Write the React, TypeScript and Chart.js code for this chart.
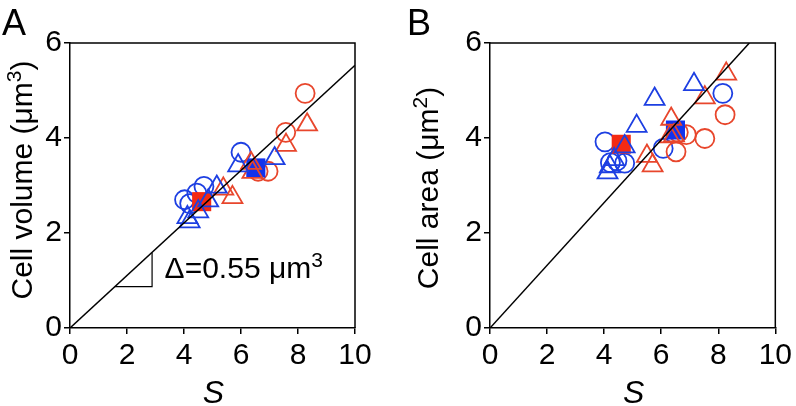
import React, { useEffect, useRef } from 'react';
import { Chart, registerables } from 'chart.js';

Chart.register(...registerables);

const FONT = '"Liberation Sans", Arial, Helvetica, sans-serif';
const BLUE = '#1d3fe2';
const RED = '#e8462c';
const RED_FILL = '#f42a12';
const BLUE_FILL = '#1232ee';

// ---- Panel A: Cell volume vs S ----
const blueCirclesA = [[4.02, 2.70], [4.2, 2.62], [4.45, 2.84], [4.7, 2.98], [6.0, 3.70]];
const blueTrianglesA = [[4.12, 2.33], [4.2, 2.24], [4.5, 2.45], [4.85, 2.68], [5.15, 2.97], [5.9, 3.42], [7.18, 3.57]];
const redCirclesA = [[6.6, 3.3], [6.95, 3.3], [7.57, 4.12], [8.25, 4.94]];
const redTrianglesA = [[5.38, 2.93], [5.7, 2.75], [6.35, 3.47], [6.4, 3.28], [7.58, 3.85], [8.32, 4.28]];
const redSquareA = [[4.62, 2.66]];
const blueSquareA = [[6.52, 3.37]];
const fitLineA = [[0, 0], [10, 5.53]];
const slopeTriangleA = [[1.58, 0.87], [2.88, 0.87], [2.88, 1.59]];

// ---- Panel B: Cell area vs S ----
const blueCirclesB = [[4.03, 3.92], [4.22, 3.48], [4.45, 3.52], [4.72, 3.47], [6.07, 3.78], [8.16, 4.94]];
const blueTrianglesB = [[4.12, 3.27], [4.2, 3.4], [4.35, 3.55], [4.72, 3.82], [5.14, 4.25], [5.77, 4.82], [7.15, 5.13]];
const redCirclesB = [[6.52, 3.71], [6.6, 4.12], [6.88, 4.07], [7.53, 3.99], [8.24, 4.49]];
const redTrianglesB = [[5.5, 3.62], [5.7, 3.42], [6.3, 4.03], [6.45, 4.05], [6.35, 4.4], [7.53, 4.85], [8.28, 5.35]];
const redSquareB = [[4.6, 3.87]];
const blueSquareB = [[6.5, 4.17]];
const fitLineB = [[0, 0], [9.09, 6]];

const xRange = [0, 10];
const yRange = [0, 6];
const tickStep = 2;

type Pt = number[];
const toXY = (arr: Pt[]) => arr.map(([x, y]) => ({ x, y }));

function drawRich(ctx: CanvasRenderingContext2D, parts: [string, boolean][], x: number, y: number, size: number, align: 'left' | 'center', italic = false) {
  const supSize = size * 0.7;
  const rise = size * 0.36;
  const style = italic ? 'italic ' : '';
  let total = 0;
  const widths = parts.map(([t, sup]) => {
    ctx.font = `${style}${sup ? supSize : size}px ${FONT}`;
    const w = ctx.measureText(t).width;
    total += w;
    return w;
  });
  let cx = align === 'center' ? x - total / 2 : x;
  ctx.textAlign = 'left';
  ctx.textBaseline = 'alphabetic';
  parts.forEach(([t, sup], i) => {
    ctx.font = `${style}${sup ? supSize : size}px ${FONT}`;
    ctx.fillText(t, cx, sup ? y - rise : y);
    cx += widths[i];
  });
}

type PanelCfg = {
  letter: string;
  letterX: number;
  titleParts: [string, boolean][];
  titleX: number;
  titleY: number;
  yAxisWidth: number;
  padRight: number;
  blueCircles: Pt[];
  blueTriangles: Pt[];
  redCircles: Pt[];
  redTriangles: Pt[];
  redSquare: Pt[];
  blueSquare: Pt[];
  fit: Pt[];
  slope?: Pt[];
  annotation?: boolean;
};

function Panel({ cfg, left, width }: { cfg: PanelCfg; left: number; width: number }) {
  const ref = useRef<HTMLCanvasElement>(null);
  useEffect(() => {
    const canvas = ref.current!;
    const deco = {
      id: 'deco',
      afterDraw(chart: any) {
        const { ctx, chartArea } = chart;
        const xs = chart.scales.x;
        const ys = chart.scales.y;
        ctx.save();
        ctx.strokeStyle = '#000';
        ctx.lineWidth = 1.5;
        ctx.beginPath();
        ctx.moveTo(chartArea.left, chartArea.top);
        ctx.lineTo(chartArea.right, chartArea.top);
        ctx.lineTo(chartArea.right, chartArea.bottom);
        ctx.stroke();
        ctx.fillStyle = '#000';
        ctx.font = `36px ${FONT}`;
        ctx.textAlign = 'left';
        ctx.textBaseline = 'alphabetic';
        ctx.fillText(cfg.letter, cfg.letterX, 35);
        drawRich(ctx, [['S', false]], (chartArea.left + chartArea.right) / 2 + 1, 403, 32, 'center', true);
        ctx.save();
        ctx.translate(cfg.titleX, cfg.titleY);
        ctx.rotate(-Math.PI / 2);
        drawRich(ctx, cfg.titleParts, 0, 0, 30, 'center');
        ctx.restore();
        if (cfg.annotation) {
          drawRich(ctx, [['\u0394=0.55 \u03bcm', false], ['3', true]], xs.getPixelForValue(3.32), ys.getPixelForValue(1.05), 30, 'left');
        }
        ctx.restore();
      },
    };
    const markerDs = (data: Pt[], style: string, color: string, fill: boolean, radius: number) => ({
      data: toXY(data),
      pointStyle: style,
      pointRadius: radius,
      pointHoverRadius: radius,
      pointBorderWidth: fill ? 0 : 1.8,
      pointHoverBorderWidth: fill ? 0 : 1.8,
      pointBorderColor: color,
      pointBackgroundColor: fill ? color : 'rgba(0,0,0,0)',
      showLine: false,
    });
    const datasets: any[] = [
      {
        data: toXY(cfg.fit),
        showLine: true,
        borderColor: '#000',
        borderWidth: 1.5,
        pointRadius: 0,
        pointHoverRadius: 0,
        fill: false,
      },
    ];
    if (cfg.slope) {
      datasets.push({
        data: toXY(cfg.slope),
        showLine: true,
        borderColor: '#000',
        borderWidth: 1.2,
        pointRadius: 0,
        pointHoverRadius: 0,
        fill: false,
      });
    }
    datasets.push(
      markerDs(cfg.blueTriangles, 'triangle', BLUE, false, 11.5),
      markerDs(cfg.redTriangles, 'triangle', RED, false, 11.5),
      markerDs(cfg.blueSquare, 'rect', BLUE_FILL, true, 13.5),
      markerDs(cfg.redSquare, 'rect', RED_FILL, true, 13.5),
      markerDs(cfg.redCircles, 'circle', RED, false, 9.5),
      markerDs(cfg.blueCircles, 'circle', BLUE, false, 9.5),
    );
    const axisCommon = {
      type: 'linear' as const,
      grid: { drawOnChartArea: false, drawTicks: true, tickLength: 6, color: '#000', lineWidth: 1.5 },
      border: { display: true, color: '#000', width: 1.5 },
    };
    const chart = new Chart(canvas, {
      type: 'scatter',
      data: { datasets },
      plugins: [deco],
      options: {
        animation: false,
        responsive: false,
        devicePixelRatio: 1,
        events: [],
        layout: { padding: { top: 43, right: cfg.padRight, left: 0, bottom: 0 } },
        plugins: { legend: { display: false }, tooltip: { enabled: false } },
        scales: {
          x: {
            ...axisCommon,
            min: xRange[0],
            max: xRange[1],
            ticks: { stepSize: tickStep, color: '#000', font: { size: 30, family: FONT }, padding: 4, maxRotation: 0 },
            afterFit: (s: any) => { s.height = 78; },
          },
          y: {
            ...axisCommon,
            min: yRange[0],
            max: yRange[1],
            ticks: { stepSize: tickStep, color: '#000', font: { size: 30, family: FONT }, padding: 2 },
            afterFit: (s: any) => { s.width = cfg.yAxisWidth; },
          },
        },
      } as any,
    });
    return () => chart.destroy();
  }, []);
  return (
    <canvas
      ref={ref}
      width={width}
      height={406}
      style={{ position: 'absolute', left, top: 0, width, height: 406 }}
    />
  );
}

const panelA: PanelCfg = {
  letter: 'A',
  letterX: 2,
  titleParts: [['Cell volume (\u03bcm', false], ['3', true], [')', false]],
  titleX: 32,
  titleY: 180,
  yAxisWidth: 70,
  padRight: 45,
  blueCircles: blueCirclesA,
  blueTriangles: blueTrianglesA,
  redCircles: redCirclesA,
  redTriangles: redTrianglesA,
  redSquare: redSquareA,
  blueSquare: blueSquareA,
  fit: fitLineA,
  slope: slopeTriangleA,
  annotation: true,
};

const panelB: PanelCfg = {
  letter: 'B',
  letterX: 7,
  titleParts: [['Cell area (\u03bcm', false], ['2', true], [')', false]],
  titleX: 38,
  titleY: 188,
  yAxisWidth: 90,
  padRight: 19,
  blueCircles: blueCirclesB,
  blueTriangles: blueTrianglesB,
  redCircles: redCirclesB,
  redTriangles: redTrianglesB,
  redSquare: redSquareB,
  blueSquare: blueSquareB,
  fit: fitLineB,
};

export default function App() {
  return (
    <div style={{ position: 'absolute', left: 0, top: 0, width: 796, height: 406, background: '#fff' }}>
      <Panel cfg={panelA} left={0} width={400} />
      <Panel cfg={panelB} left={400} width={396} />
    </div>
  );
}
